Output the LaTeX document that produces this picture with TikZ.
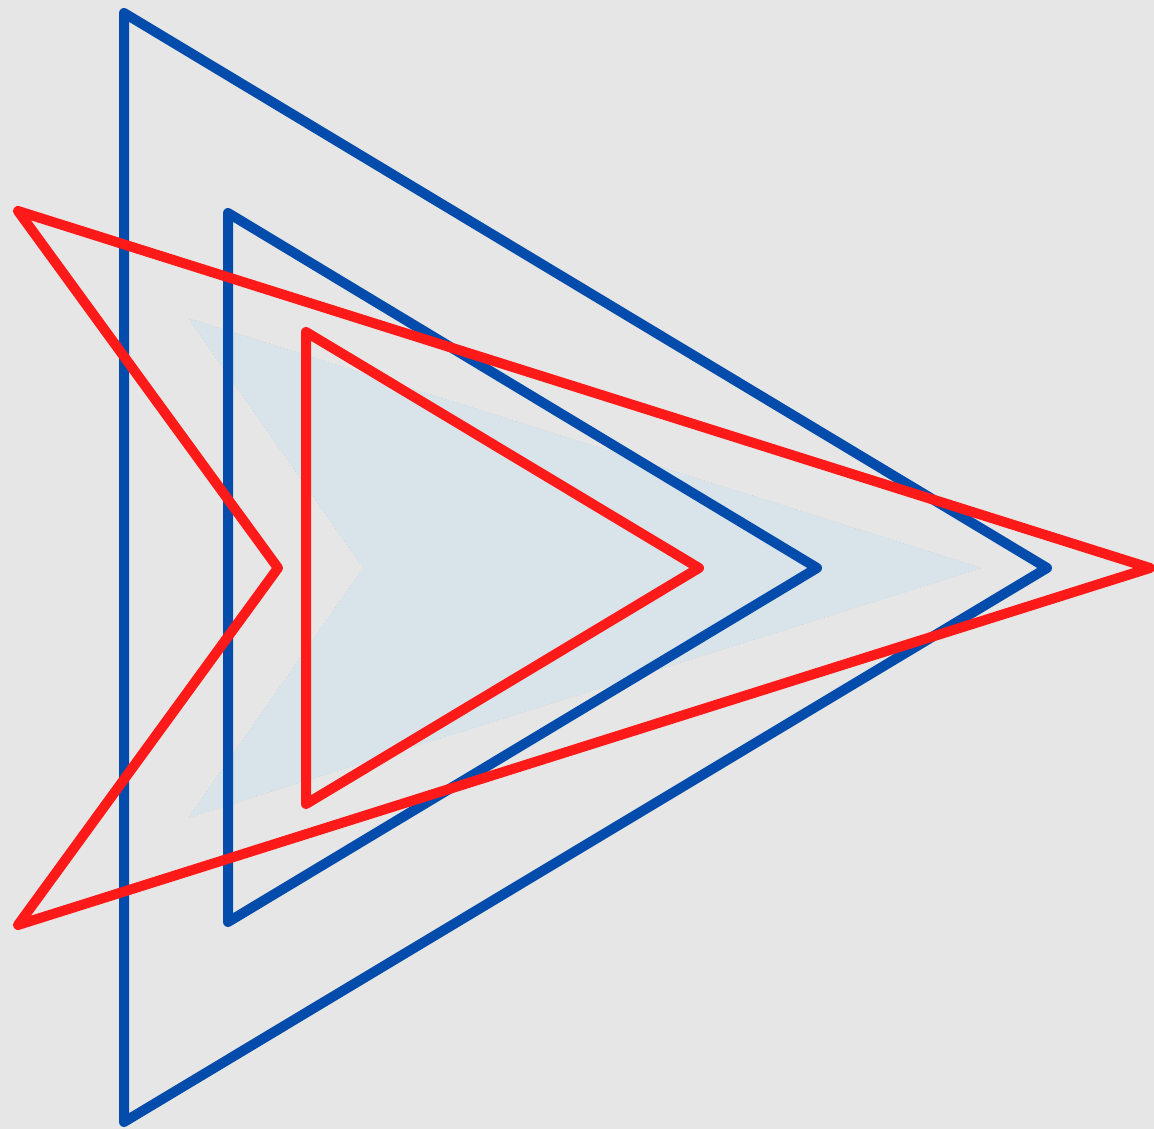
\documentclass[tikz,border=0pt]{standalone}
\usepackage{xcolor}
\usepackage{tikz}
\definecolor{bggray}{HTML}{E6E6E6}
\definecolor{triblue}{HTML}{044CAC}
\definecolor{trired}{HTML}{FF1A1A}
\definecolor{paleblue}{HTML}{D8E3EA}
\tikzset{
bluetri/.style={
draw=triblue,
line width=1mm,
line join=round,
line cap=round
},
redtri/.style={
draw=trired,
line width=1mm,
line join=round,
line cap=round
},
shade/.style={
fill=paleblue,
draw=gray!60,
line width=0.1pt,
densely dotted
}
}
\begin{document}
\begin{tikzpicture}[x=0.1mm,y=-0.1mm]
\fill[bggray](0,0)rectangle(1154,1129);
\useasboundingbox(0,0)rectangle(1154,1129);

% pale chevron behind
\draw[shade](188,318)--(982,568)--(188,818)--(363,568)--cycle;

% blue triangles
\draw[bluetri](124,13)--(1047,568)--(124,1122)--cycle;
\draw[bluetri](228,213)--(817,568)--(228,922)--cycle;

% red shapes
\draw[redtri](18,211)--(1150,568)--(18,925)--(278,568)--cycle;
\draw[redtri](306,332)--(699,568)--(306,804)--cycle;
\end{tikzpicture}
\end{document}
